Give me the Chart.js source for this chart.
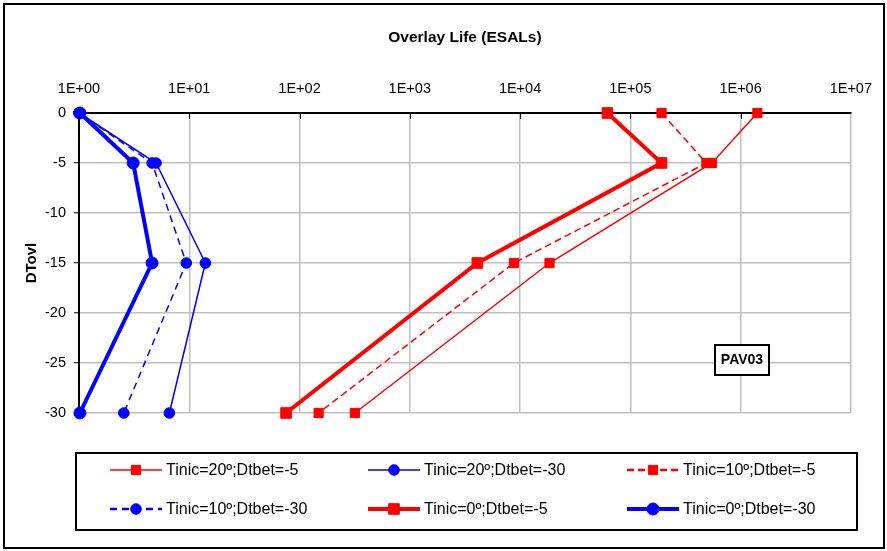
<!DOCTYPE html>
<html>
<head>
<meta charset="utf-8">
<script src="https://cdn.jsdelivr.net/npm/chart.js@4.4.0/dist/chart.umd.min.js"></script>
<style>
    body { margin: 0; background: #fff; }
    #wrap { width: 887px; height: 551px; }
</style>
</head>
<body>
<div id="wrap"><canvas id="myChart" width="887" height="551"></canvas></div>
<script>
// depth of the overlay (y) for each point
const depths = [0, -5, -15, -30];

// overlay life (ESALs) per series
const t20d5 = [1.42e6, 5.5e5, 1.85e4, 318];
const t20d30 = [1, 5.0, 14, 6.6];
const t10d5 = [1.92e5, 4.9e5, 8.8e3, 149];
const t10d30 = [1, 4.6, 9.4, 2.55];
const t0d5 = [6.2e4, 1.92e5, 4.1e3, 75.5];
const t0d30 = [1.02, 3.1, 4.6, 1.02];

const seriesNames = ['Tinic=20º;Dtbet=-5', 'Tinic=20º;Dtbet=-30', 'Tinic=10º;Dtbet=-5',
                     'Tinic=10º;Dtbet=-30', 'Tinic=0º;Dtbet=-5', 'Tinic=0º;Dtbet=-30'];

const xTickValues = [1, 10, 100, 1e3, 1e4, 1e5, 1e6, 1e7];
const xTickLabels = ['1E+00', '1E+01', '1E+02', '1E+03', '1E+04', '1E+05', '1E+06', '1E+07'];

const FONT = "'Liberation Sans', Arial, sans-serif";
const RED = '#ff0000';
const BLUE = '#0000ff';

function toPoints(values){
    return values.map((v, i) => ({x: v, y: depths[i]}));
}

function makeDataset(index, values, color, style, width, dash, radius){
    return {
        label: seriesNames[index],
        data: toPoints(values),
        showLine: true,
        borderColor: color,
        backgroundColor: color,
        borderWidth: width,
        borderDash: dash,
        pointStyle: style,
        pointRadius: radius,
        pointBorderWidth: 1,
        pointBorderColor: color,
        pointBackgroundColor: color,
        clip: false,
        order: 5 - index
    };
}

const datasets = [
    makeDataset(0, t20d5, RED, 'rect', 1.5, [], 6.5),
    makeDataset(1, t20d30, BLUE, 'circle', 1.5, [], 5.3),
    makeDataset(2, t10d5, RED, 'rect', 1.5, [7, 4], 6.5),
    makeDataset(3, t10d30, BLUE, 'circle', 1.5, [7, 5], 5.3),
    makeDataset(4, t0d5, RED, 'rect', 4, [], 7.5),
    makeDataset(5, t0d30, BLUE, 'circle', 4, [], 6)
];

// frame, inner ticks, PAV03 label and the boxed legend
const chartDecor = {
    id: 'chartDecor',
    beforeDatasetsDraw(chart){
        const ctx = chart.ctx;
        const area = chart.chartArea;
        const xScale = chart.scales.x;
        ctx.save();
        ctx.strokeStyle = '#000';
        ctx.lineWidth = 1;
        for(let i = 1; i < xTickValues.length - 1; i++){
            const px = Math.round(xScale.getPixelForValue(xTickValues[i])) + 0.5;
            ctx.beginPath();
            ctx.moveTo(px, area.top);
            ctx.lineTo(px, area.top + 6);
            ctx.stroke();
        }
        ctx.restore();
    },
    afterDraw(chart){
        const ctx = chart.ctx;
        ctx.save();

        // outer frame
        ctx.strokeStyle = '#000';
        ctx.lineWidth = 2;
        ctx.strokeRect(4, 4, 880, 544);

        // PAV03 box
        ctx.fillStyle = '#fff';
        ctx.fillRect(715, 345, 54, 30);
        ctx.strokeRect(715, 345, 54, 30);
        ctx.fillStyle = '#000';
        ctx.font = "bold 14px " + FONT;
        ctx.textAlign = 'center';
        ctx.textBaseline = 'middle';
        ctx.fillText('PAV03', 742, 360);

        // legend
        ctx.strokeRect(76, 453, 781, 77);
        const colX = [110, 368, 627];
        const rowY = [470, 509];
        ctx.font = "16px " + FONT;
        ctx.textAlign = 'left';
        chart.data.datasets.forEach((ds, i) => {
            const x = colX[i % 3];
            const y = rowY[Math.floor(i / 3)];
            ctx.strokeStyle = ds.borderColor;
            ctx.fillStyle = ds.borderColor;
            ctx.lineWidth = ds.borderDash.length ? 2.5 : ds.borderWidth;
            ctx.setLineDash(ds.borderDash);
            ctx.beginPath();
            ctx.moveTo(x, y);
            ctx.lineTo(x + 52, y);
            ctx.stroke();
            ctx.setLineDash([]);
            ctx.lineWidth = 1;
            Chart.helpers.drawPoint(ctx, {pointStyle: ds.pointStyle, radius: ds.pointRadius, borderWidth: 1, rotation: 0}, x + 26, y);
            ctx.fillStyle = '#000';
            ctx.fillText(ds.label, x + 56, y + 1);
        });

        ctx.restore();
    }
};

const ctx = document.getElementById('myChart');

new Chart(ctx, {
    type: 'scatter',
    data: { datasets: datasets },
    plugins: [chartDecor],
    options: {
        responsive: false,
        animation: false,
        layout: { padding: { left: 4, top: 4, right: 34, bottom: 138 } },
        plugins: {
            legend: { display: false },
            tooltip: { enabled: false }
        },
        scales: {
            x: {
                type: 'logarithmic',
                position: 'top',
                min: 1,
                max: 1e7,
                afterBuildTicks: (scale) => { scale.ticks = xTickValues.map(v => ({value: v})); },
                afterFit: (scale) => { scale.height = 109; },
                ticks: {
                    color: '#000',
                    font: { family: FONT, size: 14.5 },
                    padding: 15,
                    maxRotation: 0,
                    autoSkip: false,
                    callback: (value, index) => xTickLabels[index]
                },
                grid: { color: '#c0c0c0', lineWidth: 1.5, drawTicks: false },
                border: { color: '#000', width: 2 },
                title: {
                    display: true,
                    text: 'Overlay Life (ESALs)',
                    color: '#000',
                    font: { family: FONT, size: 15.5, weight: 'bold' },
                    padding: { top: 24.7, bottom: 0 }
                }
            },
            y: {
                min: -30,
                max: 0,
                afterFit: (scale) => { scale.width = 75; },
                ticks: {
                    stepSize: 5,
                    color: '#000',
                    font: { family: FONT, size: 14.5 },
                    padding: 8
                },
                grid: { color: '#c0c0c0', lineWidth: 1.5, drawTicks: true, tickLength: 5, tickColor: '#000', tickWidth: 1 },
                border: { color: '#000', width: 2 },
                title: {
                    display: true,
                    text: 'DTovl',
                    color: '#000',
                    font: { family: FONT, size: 15, weight: 'bold' },
                    padding: { top: 18.5, bottom: 0 }
                }
            }
        }
    }
});
</script>
</body>
</html>
